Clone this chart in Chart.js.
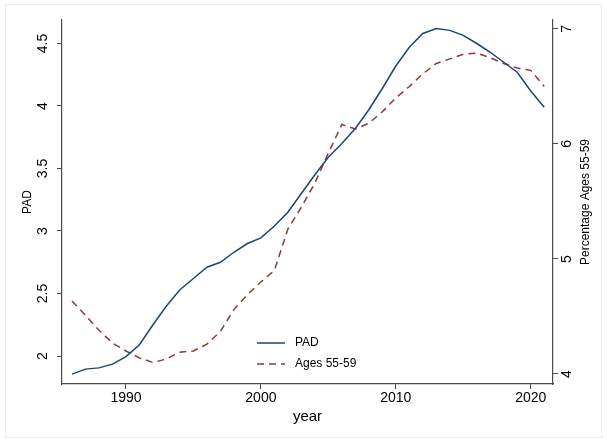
<!DOCTYPE html>
<html>
<head>
<meta charset="utf-8">
<script src="https://cdn.jsdelivr.net/npm/chart.js@4"></script>
<style>
  html, body { margin: 0; padding: 0; background: #fff; }
  #wrap { width: 607px; height: 443px; }
</style>
</head>
<body>
<div id="wrap"><canvas id="chart" width="607" height="443"></canvas></div>
<script>
const years = [1986, 1987, 1988, 1989, 1990, 1991, 1992, 1993, 1994, 1995, 1996, 1997,
  1998, 1999, 2000, 2001, 2002, 2003, 2004, 2005, 2006, 2007, 2008, 2009,
  2010, 2011, 2012, 2013, 2014, 2015, 2016, 2017, 2018, 2019, 2020, 2021];
const pad = [1.855, 1.895, 1.905, 1.935, 1.995, 2.09, 2.25, 2.40, 2.53, 2.62, 2.71, 2.75,
  2.83, 2.90, 2.945, 3.04, 3.15, 3.30, 3.45, 3.59, 3.70, 3.82, 3.97, 4.14,
  4.32, 4.47, 4.58, 4.62, 4.605, 4.565, 4.50, 4.43, 4.35, 4.27, 4.12, 3.99];
const ages5559 = [4.635, 4.51, 4.38, 4.27, 4.20, 4.14, 4.10, 4.13, 4.19, 4.20, 4.26, 4.37,
  4.56, 4.69, 4.80, 4.90, 5.26, 5.45, 5.66, 5.92, 6.17, 6.13, 6.18, 6.28,
  6.40, 6.50, 6.61, 6.70, 6.74, 6.78, 6.79, 6.75, 6.70, 6.66, 6.64, 6.50];
const xTicks = [1990, 2000, 2010, 2020];
const padTicks = [2, 2.5, 3, 3.5, 4, 4.5];
const pctTicks = [4, 5, 6, 7];

const FONT = '"Liberation Sans", Arial, sans-serif';
const AXIS = '#4a4a4a';

function pts(ys) {
  return years.map((y, i) => ({ x: y, y: ys[i] }));
}
function fixTicks(list) {
  return scale => { scale.ticks = list.map(v => ({ value: v })); };
}

// draws the frame, rotated tick labels, axis titles and the inside legend
const stataText = {
  id: 'stataText',
  beforeDraw(chart) {
    const ctx = chart.ctx;
    ctx.save();
    ctx.fillStyle = '#fff';
    ctx.fillRect(0, 0, chart.width, chart.height);
    ctx.strokeStyle = '#e6eff1';
    ctx.lineWidth = 1;
    ctx.strokeRect(5.5, 4.5, 596, 433);
    ctx.restore();
  },
  afterDraw(chart) {
    const ctx = chart.ctx;
    const { x, y, y2 } = chart.scales;
    const area = chart.chartArea;
    ctx.save();
    ctx.fillStyle = '#000';

    // x tick labels
    ctx.font = '14px ' + FONT;
    ctx.textAlign = 'center';
    ctx.textBaseline = 'middle';
    x.ticks.forEach(t => ctx.fillText(String(t.value), x.getPixelForValue(t.value), 398));

    // vertical tick labels, both axes
    const rot = (txt, px, py) => {
      ctx.save();
      ctx.translate(px, py);
      ctx.rotate(-Math.PI / 2);
      ctx.fillText(txt, 0, 0);
      ctx.restore();
    };
    y.ticks.forEach(t => rot(String(t.value), 43, y.getPixelForValue(t.value)));
    y2.ticks.forEach(t => rot(String(t.value), 567, y2.getPixelForValue(t.value)));

    // axis titles
    ctx.font = '12px ' + FONT;
    rot('PAD', 28, (area.top + area.bottom) / 2);
    rot('Percentage Ages 55-59', 586, (area.top + area.bottom) / 2);
    ctx.font = '15px ' + FONT;
    ctx.fillText('year', (area.left + area.right) / 2, 417);

    // legend
    ctx.font = '12px ' + FONT;
    ctx.textAlign = 'left';
    chart.data.datasets.forEach((ds, i) => {
      const ly = 343 + i * 21;
      ctx.save();
      ctx.strokeStyle = ds.borderColor;
      ctx.lineWidth = ds.borderWidth;
      ctx.setLineDash(ds.borderDash || []);
      ctx.beginPath();
      ctx.moveTo(257, ly);
      ctx.lineTo(285, ly);
      ctx.stroke();
      ctx.restore();
      ctx.fillText(ds.label, 295, ly);
    });
    ctx.restore();
  }
};

const axisGrid = {
  display: true,
  drawOnChartArea: false,
  drawTicks: true,
  tickLength: 5,
  color: AXIS,
  lineWidth: 1
};
const axisBorder = { display: true, color: AXIS, width: 1.2 };

new Chart(document.getElementById('chart'), {
  type: 'line',
  data: {
    datasets: [
      {
        label: 'PAD',
        data: pts(pad),
        yAxisID: 'y',
        borderColor: '#1a476f',
        borderWidth: 1.5,
        pointRadius: 0,
        tension: 0,
        fill: false
      },
      {
        label: 'Ages 55-59',
        data: pts(ages5559),
        yAxisID: 'y2',
        borderColor: '#90353b',
        borderWidth: 1.5,
        borderDash: [7, 5],
        pointRadius: 0,
        tension: 0,
        fill: false
      }
    ]
  },
  options: {
    responsive: false,
    animation: false,
    devicePixelRatio: 1,
    layout: { padding: { left: 57, right: 49, top: 20, bottom: 54 } },
    plugins: { legend: { display: false }, tooltip: { enabled: false } },
    scales: {
      x: {
        type: 'linear',
        min: 1985.26,
        max: 2021.65,
        afterBuildTicks: fixTicks(xTicks),
        ticks: { display: false },
        grid: axisGrid,
        border: axisBorder
      },
      y: {
        type: 'linear',
        position: 'left',
        min: 1.776,
        max: 4.688,
        afterBuildTicks: fixTicks(padTicks),
        ticks: { display: false },
        grid: axisGrid,
        border: axisBorder
      },
      y2: {
        type: 'linear',
        position: 'right',
        min: 3.913,
        max: 7.078,
        afterBuildTicks: fixTicks(pctTicks),
        ticks: { display: false },
        grid: axisGrid,
        border: axisBorder
      }
    }
  },
  plugins: [stataText]
});
</script>
</body>
</html>
